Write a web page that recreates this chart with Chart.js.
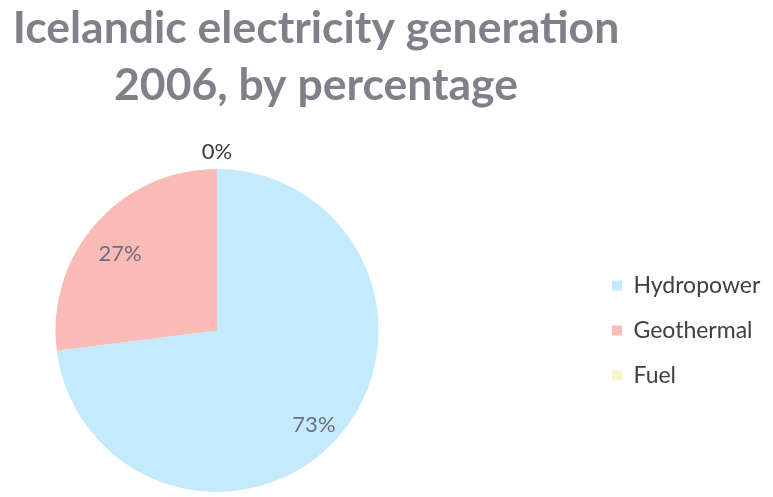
<!DOCTYPE html>
<html>
<head>
<meta charset="utf-8">
<title>Icelandic electricity generation 2006</title>
<script src="https://cdn.jsdelivr.net/npm/chart.js@4.4.1/dist/chart.umd.min.js"></script>
<style>
  html, body { margin: 0; padding: 0; background: #ffffff; }
  #wrap { width: 773px; height: 497px; }
</style>
</head>
<body>
<div id="wrap"><canvas id="pie" width="773" height="497"></canvas></div>
<script>
// data
const categories = ['Hydropower', 'Geothermal', 'Fuel'];
const shares = [73, 27, 0];
const sliceColors = ['#c4ebfb', '#f8bbb6', '#f5f6c6'];
const titleLines = ['Icelandic electricity generation', '2006, by percentage'];

const legendFontSize = 23;
const legendPad = 22;
const legendBox = 10;

// measure the widest legend label so the legend lands where it should
const probe = document.createElement('canvas').getContext('2d');
probe.font = legendFontSize + 'px Lato';
const widest = Math.max(...categories.map(c => probe.measureText(c).width));
const legendWidth = legendPad + legendBox + legendFontSize / 2 + widest + 10;
const legendLeft = 590;
const padRight = 773 - legendLeft - legendWidth;
const padLeft = padRight - 141;      // keeps the title centred over the left part
const pieRight = 434;                // chart area ends here, pie sits left of the legend
const gapWidth = legendLeft - pieRight;

// empty layout box between the pie and the legend
const legendGap = {
  id: 'legendGap',
  beforeInit(chart) {
    Chart.layouts.addBox(chart, {
      position: 'right',
      weight: 0,
      fullSize: false,
      options: {},
      left: 0, top: 0, right: 0, bottom: 0, width: 0, height: 0,
      isHorizontal() { return false; },
      update(maxWidth, maxHeight) {
        this.width = gapWidth;
        this.height = maxHeight;
      },
      draw() {}
    });
  }
};

// percentage labels on the slices (0% goes outside, above)
const sliceLabels = {
  id: 'sliceLabels',
  afterDatasetsDraw(chart) {
    const ctx = chart.ctx;
    const meta = chart.getDatasetMeta(0);
    ctx.save();
    ctx.font = '22px Lato';
    ctx.textAlign = 'center';
    ctx.textBaseline = 'middle';
    meta.data.forEach((arc, i) => {
      const p = arc.getProps(['x', 'y', 'startAngle', 'endAngle', 'outerRadius'], true);
      const mid = (p.startAngle + p.endAngle) / 2;
      const outside = shares[i] === 0;
      const r = outside ? p.outerRadius + 17 : p.outerRadius * 0.8;
      const dy = outside ? 0 : 9;
      ctx.fillStyle = outside ? '#3a3a3a' : '#6e6e80';
      ctx.fillText(shares[i] + '%', p.x + Math.cos(mid) * r, p.y + Math.sin(mid) * r + dy);
    });
    ctx.restore();
  }
};

new Chart(document.getElementById('pie'), {
  type: 'pie',
  data: {
    labels: categories,
    datasets: [{
      data: shares,
      backgroundColor: sliceColors,
      borderWidth: 0
    }]
  },
  options: {
    responsive: false,
    animation: false,
    layout: {
      padding: { left: padLeft, right: padRight, top: 0, bottom: 5 }
    },
    plugins: {
      title: {
        display: true,
        text: titleLines,
        color: '#80808a',
        font: { family: 'Lato', size: 44.5, weight: 'bold', lineHeight: 1.28 },
        padding: { top: 0, bottom: 55 }
      },
      legend: {
        position: 'right',
        fullSize: false,
        labels: {
          boxWidth: legendBox,
          boxHeight: legendBox,
          padding: legendPad,
          color: '#404040',
          font: { family: 'Lato', size: legendFontSize }
        }
      },
      tooltip: { enabled: false }
    }
  },
  plugins: [legendGap, sliceLabels]
});
</script>
</body>
</html>
